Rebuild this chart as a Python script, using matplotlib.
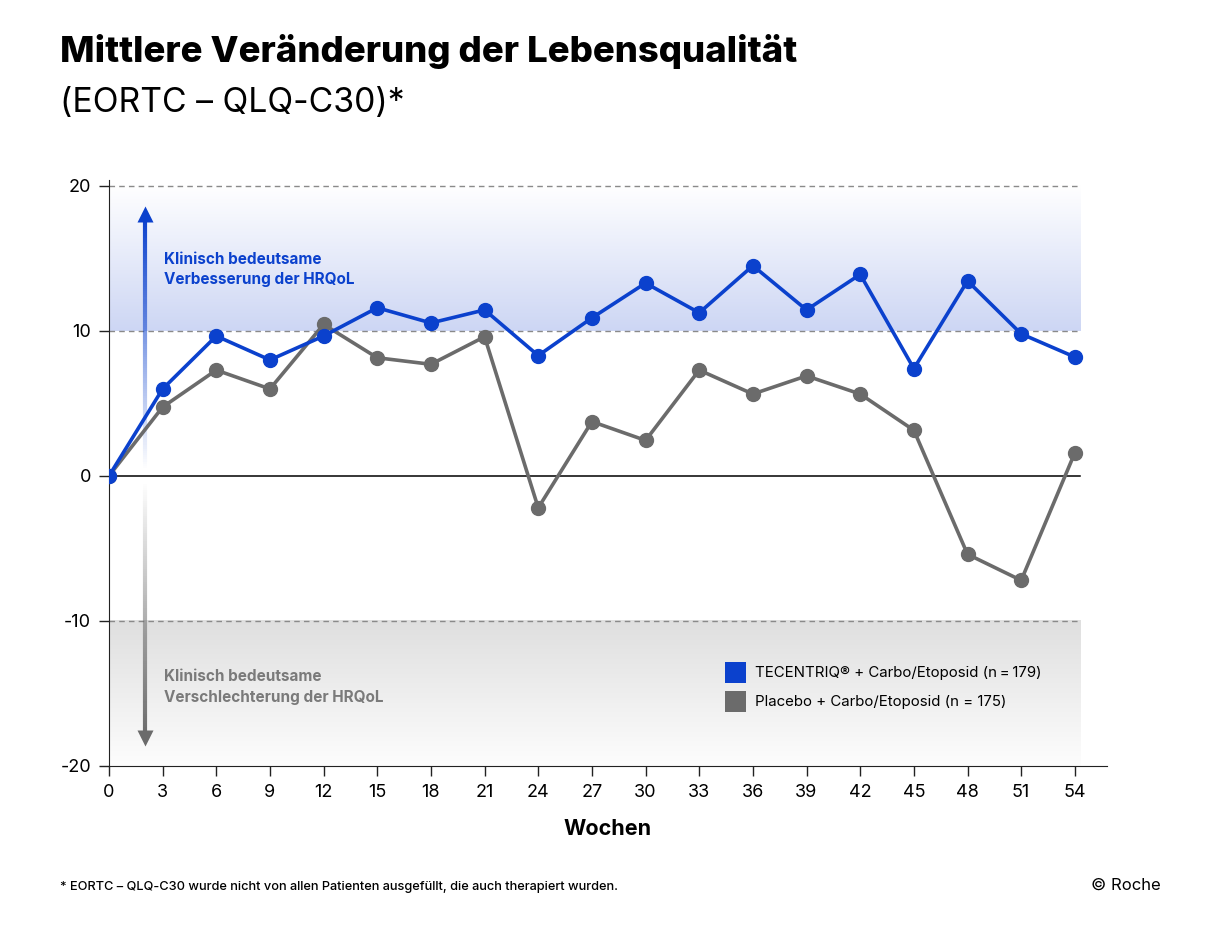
import numpy as np
import matplotlib
matplotlib.use("Agg")
import matplotlib.pyplot as plt
from matplotlib.collections import LineCollection
from matplotlib.colors import to_rgb
from matplotlib.patches import Patch

# data
weeks = [0, 3, 6, 9, 12, 15, 18, 21, 24, 27, 30, 33, 36, 39, 42, 45, 48, 51, 54]
tecentriq = [0, 6.0, 9.65, 8.0, 9.65, 11.6, 10.55, 11.45, 8.3, 10.9, 13.3, 11.25,
             14.5, 11.45, 13.9, 7.4, 13.45, 9.8, 8.2]
placebo = [0, 4.75, 7.3, 6.0, 10.45, 8.15, 7.7, 9.6, -2.2, 3.75, 2.45, 7.3,
           5.65, 6.9, 5.65, 3.15, -5.4, -7.2, 1.6]
yticks = [-20, -10, 0, 10, 20]
label_blue = "TECENTRIQ\u00ae + Carbo/Etoposid (n\u2009=\u2009179)"
label_gray = "Placebo + Carbo/Etoposid (n = 175)"

BLUE = "#0b41cd"
GRAY = "#6b6b6b"
plt.rcParams["font.family"] = ["Inter", "DejaVu Sans"]
plt.rcParams["axes.unicode_minus"] = False

fig = plt.figure(figsize=(12.12, 9.48), dpi=100)
ax = fig.add_axes([0.0899, 0.192, 0.8235, 0.618])
ax.set_xlim(0, 55.8)
ax.set_ylim(-20, 20.4)

# shaded zones (vertical gradients)
x_end = 54.3
n = 256
t = np.linspace(0, 1, n)[:, None, None]  # 0 = top row
white = np.ones((n, 1, 3))
grad_b = white * (1 - t) + np.array(to_rgb("#cdd6f4")) * t
ax.imshow(grad_b, extent=[0, x_end, 10, 20], aspect="auto", zorder=0, interpolation="bilinear")
grad_g = np.array(to_rgb("#dfdfdf")) * (1 - t) + np.array(to_rgb("#fdfdfd")) * t
ax.imshow(grad_g, extent=[0, x_end, -20, -10], aspect="auto", zorder=0, interpolation="bilinear")

for yv in [20, 10, -10]:
    ax.plot([0, x_end], [yv, yv], color="#8a8a8a", lw=1, ls=(0, (4, 3)), zorder=1)
ax.plot([0, x_end], [0, 0], color="black", lw=1.1, zorder=1)

# arrows that fade towards the zero line
def grad_arrow(y0, y1, color):
    ys = np.linspace(y0, y1, 120)
    segs = [[(2, ys[i]), (2, ys[i + 1])] for i in range(len(ys) - 1)]
    rgb = to_rgb(color)
    alphas = np.linspace(0.0, 1.0, len(segs))
    cols = [(rgb[0], rgb[1], rgb[2], a) for a in alphas]
    ax.add_collection(LineCollection(segs, colors=cols, linewidths=3, zorder=2,
                                     capstyle="butt"))

grad_arrow(0.4, 17.9, BLUE)
ax.plot(2, 18.05, marker="^", ms=11, color=BLUE, mec="none", zorder=3)
grad_arrow(-0.4, -17.9, GRAY)
ax.plot(2, -18.05, marker="v", ms=11, color=GRAY, mec="none", zorder=3)

ax.text(3.05, 14.25, "Klinisch bedeutsame\nVerbesserung der HRQoL", color=BLUE,
        fontsize=11, fontweight="bold", va="center", ha="left", linespacing=1.45)
ax.text(3.05, -14.55, "Klinisch bedeutsame\nVerschlechterung der HRQoL", color="#7a7a7a",
        fontsize=11, fontweight="bold", va="center", ha="left", linespacing=1.45)

# series
ax.plot(weeks, placebo, color=GRAY, lw=2.6, marker="o", ms=10, zorder=4)
ax.plot(weeks, tecentriq, color=BLUE, lw=2.6, marker="o", ms=10, zorder=5)

# axes styling
for s in ["top", "right"]:
    ax.spines[s].set_visible(False)
ax.spines["left"].set_color("#222222")
ax.spines["bottom"].set_color("#222222")
ax.set_xticks(weeks)
ax.set_yticks(yticks)
ax.tick_params(axis="both", labelsize=13, length=7, width=1, color="#222222", pad=6)
ax.set_xlabel("Wochen", fontsize=15.5, fontweight="bold", labelpad=13)

# legend with square handles
handles = [Patch(facecolor=BLUE, edgecolor="none"), Patch(facecolor=GRAY, edgecolor="none")]
ax.legend(handles, [label_blue, label_gray], loc="upper left", bbox_to_anchor=(0.611, 0.188),
          frameon=False, fontsize=10.8, handlelength=1.4, handleheight=1.75,
          handletextpad=0.6, labelspacing=0.55, borderaxespad=0)

# titles and notes
fig.text(0.0495, 0.935, "Mittlere Veränderung der Lebensqualität", fontsize=26.3,
         fontweight="heavy", ha="left", va="baseline")
fig.text(0.0495, 0.882, "(EORTC \u2013 QLQ-C30)*", fontsize=24.3, ha="left", va="baseline")
fig.text(0.0495, 0.061, "* EORTC \u2013 QLQ-C30 wurde nicht von allen Patienten ausgefüllt, die auch therapiert wurden.",
         fontsize=9.2, fontweight="medium", ha="left", va="baseline")
fig.text(0.958, 0.061, "\u00a9 Roche", fontsize=12, ha="right", va="baseline")

fig.savefig("out.png", dpi=100)
